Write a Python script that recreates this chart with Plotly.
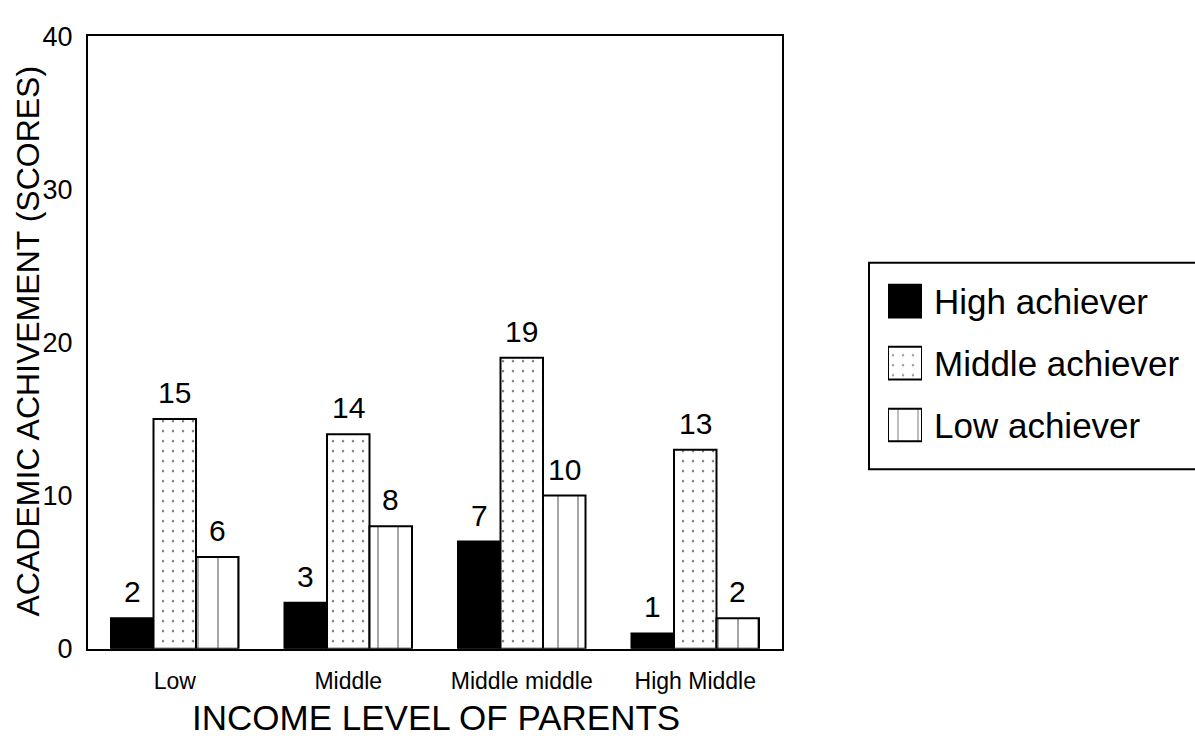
import plotly.graph_objects as go

W, H = 1195, 755

# ---- data ----
income_levels = ["Low", "Middle", "Middle middle", "High Middle"]
high_achiever = [2, 3, 7, 1]
middle_achiever = [15, 14, 19, 13]
low_achiever = [6, 8, 10, 2]
series_names = ["High achiever", "Middle achiever", "Low achiever"]
y_ticks = [0, 10, 20, 30, 40]

FONT = "Liberation Sans, Arial, Helvetica, sans-serif"

# pixel frame of the main plot area
PLOT_L, PLOT_R, PLOT_T, PLOT_B = 88, 782, 22, 660
BARGAP = 0.265


def fx(px):
    return px / W


def fy(py):
    return (H - py) / H


# fill style of each series: solid, dotted, vertical stripes
fills = [
    dict(color="black", pattern=dict(shape="", fgcolor="black", bgcolor="black")),
    dict(color="white", pattern=dict(shape=".", size=10, solidity=0.05,
                                     fgcolor="black", bgcolor="white")),
    dict(color="white", pattern=dict(shape="|", size=20, solidity=0.07,
                                     fgcolor="black", bgcolor="white")),
]

fig = go.Figure()

all_series = [high_achiever, middle_achiever, low_achiever]
for name, vals, fill in zip(series_names, all_series, fills):
    fig.add_trace(go.Bar(
        name=name, x=income_levels, y=vals,
        marker=dict(color=fill["color"], pattern=fill["pattern"],
                    line=dict(color="black", width=2)),
        showlegend=False, xaxis="x", yaxis="y",
    ))

# value labels above each bar
bar_px = (PLOT_R - PLOT_L) / len(income_levels) * (1 - BARGAP) / len(all_series)
annotations = []
for j, vals in enumerate(all_series):
    for cat, v in zip(income_levels, vals):
        annotations.append(dict(
            x=cat, y=v, xref="x", yref="y", text=str(v), showarrow=False,
            xshift=(j - 1) * bar_px, yshift=8, yanchor="bottom",
            font=dict(size=30, color="black", family=FONT),
        ))

# key swatches drawn as bars on their own small axes
row_centers = [298, 362.5, 427]
row_step = row_centers[1] - row_centers[0]
sw_top = row_centers[0] - row_step / 2
sw_bot = row_centers[-1] + row_step / 2
fig.add_trace(go.Bar(
    x=[1, 1, 1], y=[0, 1, 2], orientation="h", width=34 / row_step,
    marker=dict(
        color=[f["color"] for f in fills],
        line=dict(color="black", width=2),
        pattern=dict(
            shape=[f["pattern"]["shape"] for f in fills],
            size=[f["pattern"].get("size", 8) for f in fills],
            solidity=[f["pattern"].get("solidity", 0.3) for f in fills],
            fgcolor="black",
            bgcolor=[f["pattern"]["bgcolor"] for f in fills],
        ),
    ),
    showlegend=False, xaxis="x2", yaxis="y2", hoverinfo="skip",
))
for name, yc in zip(series_names, row_centers):
    annotations.append(dict(
        x=fx(932), y=fy(yc), xref="paper", yref="paper", text=name,
        showarrow=False, xanchor="left", yanchor="middle",
        font=dict(size=35, color="black", family=FONT),
    ))

# axis titles
annotations.append(dict(
    x=fx(28), y=fy(340), xref="paper", yref="paper",
    text="ACADEMIC ACHIVEMENT (SCORES)", textangle=-90, showarrow=False,
    xanchor="center", yanchor="middle",
    font=dict(size=32, color="black", family=FONT),
))
annotations.append(dict(
    x=fx(436), y=fy(732), xref="paper", yref="paper",
    text="INCOME LEVEL OF PARENTS", showarrow=False,
    xanchor="center", yanchor="middle",
    font=dict(size=35, color="black", family=FONT),
))

fig.update_layout(
    width=W, height=H, autosize=False,
    margin=dict(l=0, r=0, t=0, b=0),
    paper_bgcolor="white", plot_bgcolor="white",
    font=dict(family=FONT, color="black"),
    barmode="group", bargap=BARGAP, bargroupgap=0,
    xaxis=dict(
        domain=[fx(PLOT_L), fx(PLOT_R)], anchor="y",
        showline=True, mirror=True, linecolor="black", linewidth=2,
        ticks="", showgrid=False, ticklabelstandoff=11,
        tickfont=dict(size=23, color="black", family=FONT),
    ),
    yaxis=dict(
        domain=[fy(PLOT_B), fy(PLOT_T)], anchor="x",
        range=[0, 40], tickvals=y_ticks,
        showline=True, mirror=True, linecolor="black", linewidth=2,
        ticks="", showgrid=False, zeroline=False, ticklabelstandoff=8,
        tickfont=dict(size=27, color="black", family=FONT),
    ),
    xaxis2=dict(domain=[fx(888), fx(922)], anchor="y2", range=[0, 1],
                visible=False, fixedrange=True),
    yaxis2=dict(domain=[fy(sw_bot), fy(sw_top)], anchor="x2",
                range=[2.5, -0.5], visible=False, fixedrange=True),
    shapes=[dict(type="rect", xref="paper", yref="paper",
                 x0=fx(869), x1=fx(1205), y0=fy(473), y1=fy(258),
                 line=dict(color="black", width=2), fillcolor="rgba(0,0,0,0)")],
    annotations=annotations,
)

fig.write_html("out.html")
